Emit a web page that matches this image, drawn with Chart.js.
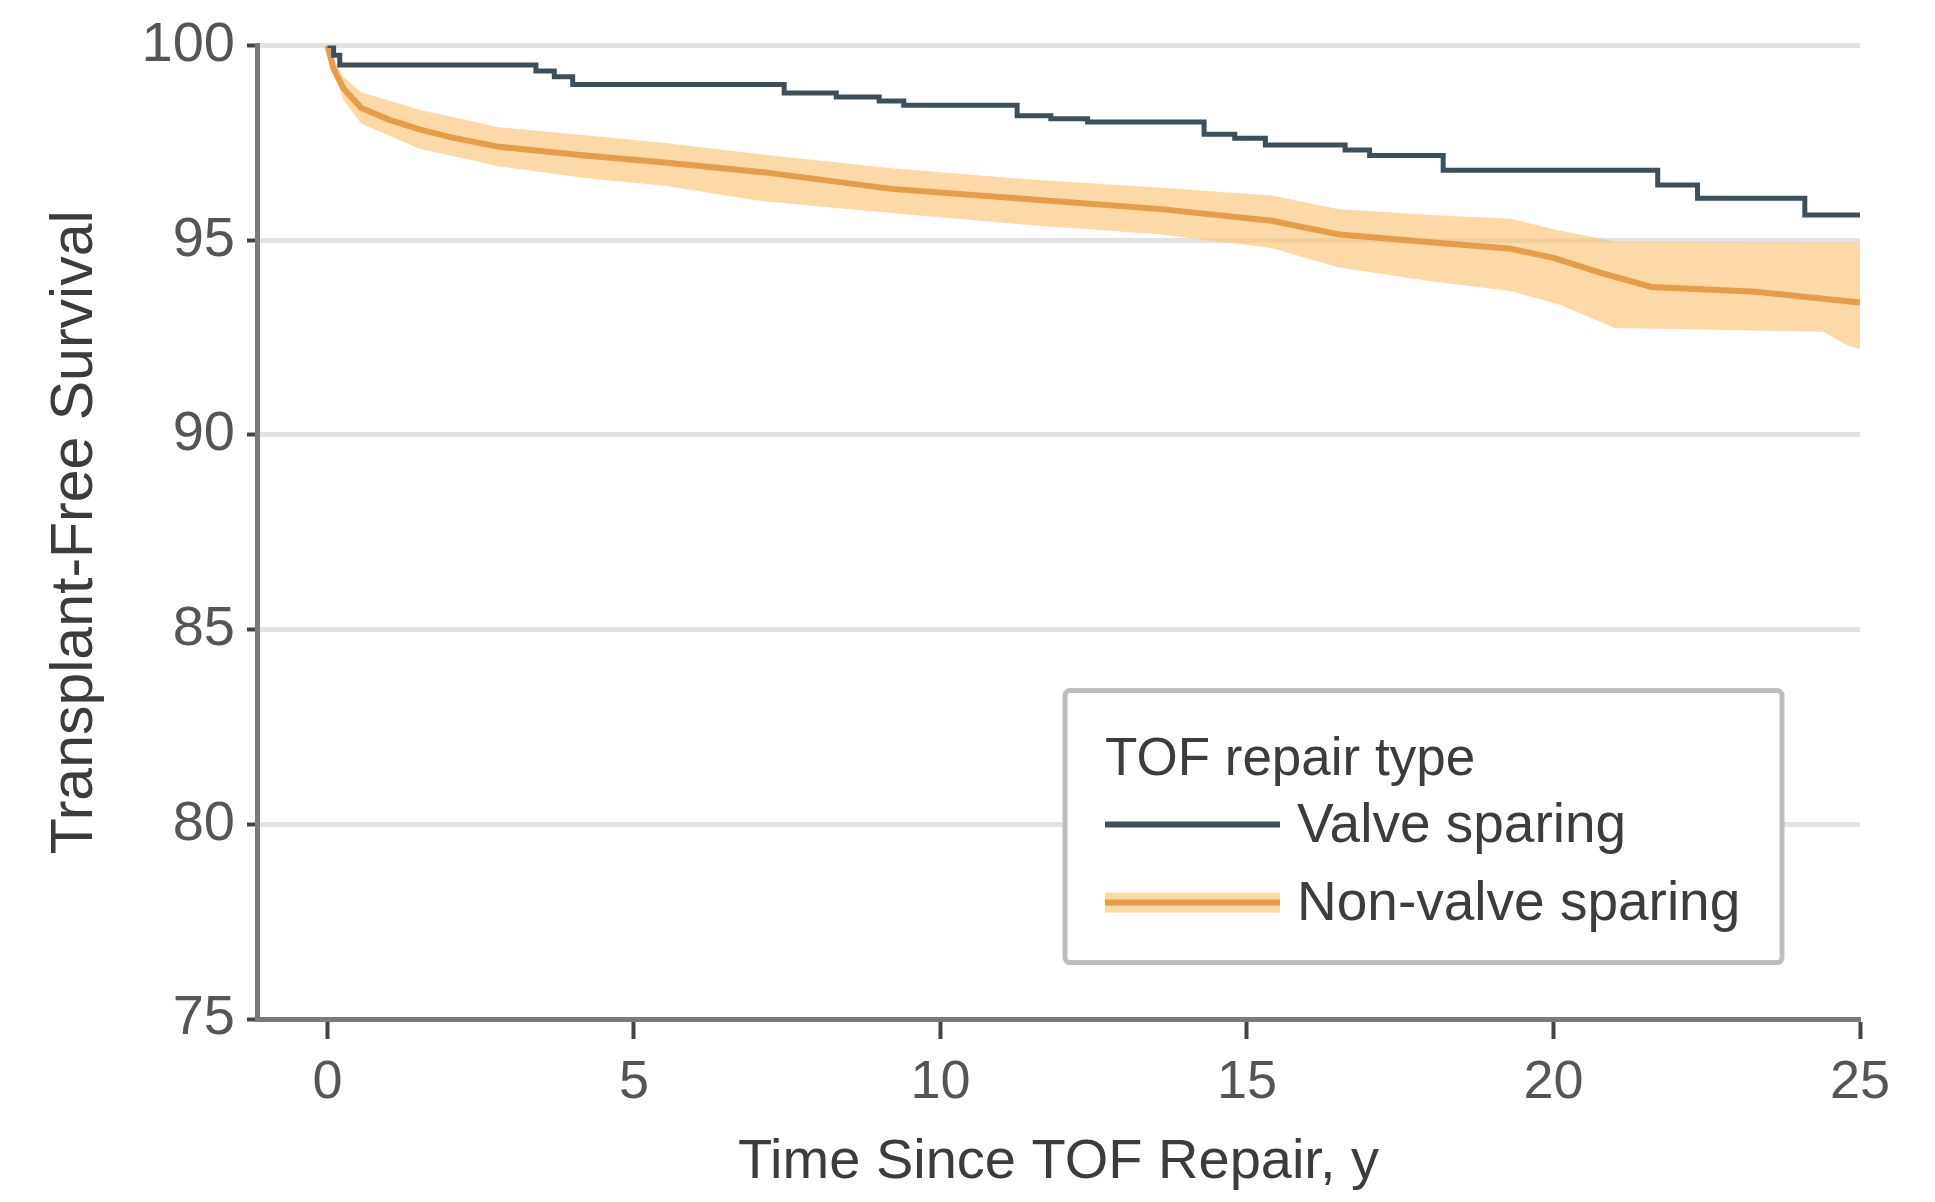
<!DOCTYPE html>
<html>
<head>
<meta charset="utf-8">
<title>Transplant-Free Survival by TOF Repair Type</title>
<script src="https://cdn.jsdelivr.net/npm/chart.js"></script>
<style>
  html, body { margin: 0; padding: 0; background: #fff; }
  #survivalChart { display: block; }
</style>
</head>
<body>
<canvas id="survivalChart" width="1935" height="1202"></canvas>
<script>
// Kaplan-Meier estimates, time in years since repair, survival in %
const valveTimes    = [0, 0.1, 0.2, 3.4, 3.7, 4.0, 7.45, 8.3, 9.0, 9.4, 11.25, 11.8, 12.4, 14.3, 14.8, 15.3, 16.6, 17.0, 18.2, 21.7, 22.35, 24.1, 25.0];
const valveSurvival = [100, 99.75, 99.5, 99.35, 99.2, 99.0, 98.78, 98.68, 98.58, 98.47, 98.2, 98.12, 98.04, 97.72, 97.62, 97.45, 97.32, 97.18, 96.8, 96.42, 96.08, 95.65, 95.62];

const nonValveTimes    = [0, 0.1, 0.26, 0.55, 1.0, 1.5, 2.0, 2.8, 4.2, 5.5, 7.1, 9.2, 11.4, 13.6, 15.4, 16.5, 18.0, 19.3, 20.0, 20.8, 21.6, 23.3, 24.4, 25.0];
const nonValveSurvival = [100, 99.4, 98.9, 98.4, 98.1, 97.85, 97.65, 97.4, 97.18, 97.0, 96.75, 96.32, 96.06, 95.8, 95.5, 95.15, 94.95, 94.78, 94.55, 94.15, 93.8, 93.68, 93.5, 93.4];

// 95% confidence band for the non-valve sparing group
const bandTimes = [0, 0.26, 0.55, 1.5, 2.8, 4.2, 5.5, 7.1, 9.2, 11.4, 13.6, 15.4, 16.5, 18.0, 19.3, 20.1, 21.0, 24.4, 24.8, 25.0];
const bandUpper = [100, 99.2, 98.8, 98.35, 97.9, 97.7, 97.5, 97.2, 96.85, 96.57, 96.35, 96.15, 95.8, 95.65, 95.55, 95.25, 94.97, 94.95, 94.95, 94.95];
const bandLower = [100, 98.6, 98.0, 97.35, 96.9, 96.6, 96.4, 96.0, 95.7, 95.4, 95.15, 94.8, 94.3, 93.95, 93.7, 93.35, 92.75, 92.65, 92.3, 92.2];

const xTicks = [0, 5, 10, 15, 20, 25];
const yTicks = [75, 80, 85, 90, 95, 100];

const legendTitle = 'TOF repair type';
const groupNames = ['Valve sparing', 'Non-valve sparing'];

const valveColor = '#3e4f5c';
const nonValveColor = '#e69c48';
const bandColor = 'rgba(252, 196, 120, 0.65)';
const textColor = '#3c3c3c';
const fontFamily = '"Liberation Sans", Arial, sans-serif';

function points(xs, ys) {
  return xs.map((x, i) => ({ x: x, y: ys[i] }));
}

// legend drawn inside the plot, lower right
const legendBox = {
  id: 'legendBox',
  afterDraw(chart) {
    const ctx = chart.ctx;
    const area = chart.chartArea;
    const left = area.right - 795;
    const top = area.top + 645;
    const w = 717, h = 272;

    ctx.save();
    ctx.fillStyle = '#fff';
    ctx.strokeStyle = '#bdbdbd';
    ctx.lineWidth = 5;
    ctx.beginPath();
    ctx.roundRect(left, top, w, h, 5);
    ctx.fill();
    ctx.stroke();

    ctx.fillStyle = textColor;
    ctx.textAlign = 'left';
    ctx.textBaseline = 'alphabetic';
    ctx.font = '53px ' + fontFamily;
    ctx.fillText(legendTitle, left + 40, top + 84);

    const lx0 = left + 40, lx1 = left + 215;
    // valve sparing
    let y = top + 134;
    ctx.strokeStyle = valveColor;
    ctx.lineWidth = 6;
    ctx.beginPath();
    ctx.moveTo(lx0, y);
    ctx.lineTo(lx1, y);
    ctx.stroke();
    ctx.font = '55px ' + fontFamily;
    ctx.textBaseline = 'middle';
    ctx.fillText(groupNames[0], left + 232, y + 2);

    // non-valve sparing, band plus line
    y = top + 212;
    ctx.fillStyle = bandColor;
    ctx.fillRect(lx0, y - 10, lx1 - lx0, 20);
    ctx.strokeStyle = nonValveColor;
    ctx.lineWidth = 6;
    ctx.beginPath();
    ctx.moveTo(lx0, y);
    ctx.lineTo(lx1, y);
    ctx.stroke();
    ctx.fillStyle = textColor;
    ctx.fillText(groupNames[1], left + 232, y + 2);
    ctx.restore();
  }
};

const chart = new Chart(document.getElementById('survivalChart'), {
  type: 'line',
  data: {
    datasets: [
      {
        label: groupNames[0],
        data: points(valveTimes, valveSurvival),
        borderColor: valveColor,
        borderWidth: 5,
        stepped: true,
        pointRadius: 0,
        fill: false,
        order: 1
      },
      {
        label: groupNames[1],
        data: points(nonValveTimes, nonValveSurvival),
        borderColor: nonValveColor,
        borderWidth: 6,
        pointRadius: 0,
        fill: false,
        order: 2
      },
      {
        label: 'upper',
        data: points(bandTimes, bandUpper),
        borderWidth: 0,
        borderColor: 'rgba(0,0,0,0)',
        backgroundColor: bandColor,
        pointRadius: 0,
        fill: '+1',
        order: 3
      },
      {
        label: 'lower',
        data: points(bandTimes, bandLower),
        borderWidth: 0,
        borderColor: 'rgba(0,0,0,0)',
        pointRadius: 0,
        fill: false,
        order: 4
      }
    ]
  },
  options: {
    responsive: false,
    animation: false,
    layout: { padding: { top: 43, right: 75, left: 0, bottom: 0 } },
    plugins: {
      legend: { display: false },
      tooltip: { enabled: false }
    },
    scales: {
      x: {
        type: 'linear',
        min: -1.15,
        max: 25,
        afterFit(scale) { scale.height = 183; },
        afterBuildTicks(scale) { scale.ticks = xTicks.map(v => ({ value: v })); },
        border: { display: true, color: '#7a7a7a', width: 5 },
        grid: {
          drawOnChartArea: false,
          drawTicks: true,
          tickLength: 20,
          tickColor: '#444',
          tickWidth: 4
        },
        ticks: {
          autoSkip: false,
          maxRotation: 0,
          padding: 12,
          color: '#555',
          font: { family: fontFamily, size: 54 }
        },
        title: {
          display: true,
          text: 'Time Since TOF Repair, y',
          color: textColor,
          font: { family: fontFamily, size: 56 },
          padding: { top: 0, bottom: 6 }
        }
      },
      y: {
        min: 75,
        max: 100,
        afterFit(scale) { scale.width = 257; },
        afterBuildTicks(scale) { scale.ticks = yTicks.map(v => ({ value: v })); },
        border: { display: true, color: '#7a7a7a', width: 5 },
        grid: {
          color: '#e2e2e2',
          lineWidth: 5,
          drawTicks: true,
          tickLength: 10,
          tickColor: '#444',
          tickWidth: 4
        },
        ticks: {
          autoSkip: false,
          padding: 12,
          color: '#555',
          font: { family: fontFamily, size: 56 }
        },
        title: {
          display: true,
          text: 'Transplant-Free Survival',
          color: textColor,
          font: { family: fontFamily, size: 59 },
          padding: { top: 40, bottom: 0 }
        }
      }
    }
  },
  plugins: [legendBox]
});
</script>
</body>
</html>
